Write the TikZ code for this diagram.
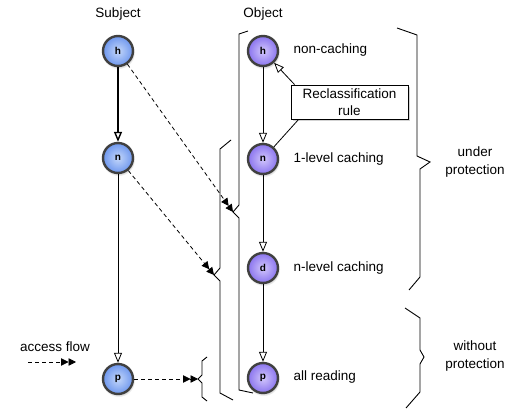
\documentclass[tikz,border=0pt]{standalone}
\usepackage{fontspec}
\setmainfont{Liberation Sans}
\usetikzlibrary{arrows.meta,shadows}
\definecolor{subjIn}{HTML}{C4D7FA}
\definecolor{subjOut}{HTML}{6E97EE}
\definecolor{objIn}{HTML}{D2C7FC}
\definecolor{objOut}{HTML}{8A74EE}
\begin{document}
\begin{tikzpicture}[x=1pt,y=-1pt,
  ball/.style={circle, minimum size=30pt, inner sep=0pt, draw=black!75, line width=2.4pt,
    font=\fontsize{10}{11}\selectfont\bfseries,
    circular drop shadow={shadow xshift=0.5pt, shadow yshift=-1.5pt, opacity=0.3}},
  subj/.style={ball, inner color=subjIn, outer color=subjOut},
  obj/.style={ball, inner color=objIn, outer color=objOut},
  lbl/.style={font=\fontsize{13.5}{18}\selectfont},
  openarr/.style={-{Triangle[open,length=10pt,width=8pt]}, line width=0.8pt},
  flow/.style={dash pattern=on 4pt off 3pt, line width=0.8pt,
    -{Triangle[length=7.5pt,width=7.5pt]Triangle[length=7.5pt,width=7.5pt]}},
  brace/.style={line width=0.9pt, line join=miter},
]
\useasboundingbox (0,0) rectangle (506,411);

% titles
\node[lbl] (subjT) at (118,14) {Subject};
\node[lbl] (objT) at (263,14) {Object};

% braces (left)
\draw[brace] (248,31) -- (239,34) -- (239,205) -- (233,212) coordinate (tA) -- (239,218) -- (239,390) -- (253,393);
\draw[brace] (231,140) -- (220,149) -- (220,268) -- (214,275) coordinate (tB) -- (220,281) -- (220,393) -- (233,400);
\draw[brace] (207,357) -- (202,361) -- (202,375) -- (198,379) coordinate (tC) -- (202,383) -- (202,397) -- (207,401);

% braces (right)
\draw[brace] (397,28) -- (417,35) -- (417,156) -- (430,162) coordinate (tU) -- (420,169) -- (420,277) -- (409,290);
\draw[brace] (405,308) -- (420,318) -- (420,350) -- (424,357) coordinate (tW) -- (420,364) -- (420,392) -- (406,408);
\node[lbl, align=center] (up) at (475,162) {under\\protection};
\node[lbl, align=center] (wp) at (475,356) {without\\protection};

% nodes
\node[subj] (sh) at (118,51) {h};
\node[subj] (sn) at (118,158) {n};
\node[subj] (sp) at (118,379) {p};
\node[obj] (oh) at (263,51) {h};
\node[obj] (on) at (263,159) {n};
\node[obj] (od) at (263,268) {d};
\node[obj] (op) at (263,378) {p};

% object labels
\node[lbl, anchor=west] (l1) at (290,50) {non-caching};
\node[lbl, anchor=west] (l2) at (290,159) {1-level caching};
\node[lbl, anchor=west] (l3) at (290,268) {n-level caching};
\node[lbl, anchor=west] (l4) at (290,377) {all reading};

% reclassification box
\node[draw, fill=white, line width=0.8pt, align=center, font=\fontsize{13.5}{17}\selectfont,
  minimum width=117pt, minimum height=34pt, inner sep=1pt,
  drop shadow={shadow xshift=2pt, shadow yshift=-2pt, opacity=0.35}] (box) at (349.5,102) {Reclassification\\rule};

% vertical arrows
\draw[openarr, line width=1.4pt] (sh) -- (sn);
\draw[openarr] (sn) -- (sp);
\draw[openarr] (oh) -- (on);
\draw[openarr] (on) -- (od);
\draw[openarr] (od) -- (op);

% reclassification connectors
\draw[openarr] ([xshift=4pt]box.north west) -- (oh);
\draw[line width=0.8pt] ([xshift=8pt]box.south west) -- (on);

% access flows
\draw[flow] (sh) -- (tA);
\draw[flow] (sn) -- (tB);
\draw[flow] (sp) -- (tC);

% legend
\node[lbl] (acc) at (55,347) {access flow};
\coordinate (lf1) at (28,362);
\coordinate (lf2) at (76,362);
\draw[flow] (lf1) -- (lf2);
\end{tikzpicture}
\end{document}
